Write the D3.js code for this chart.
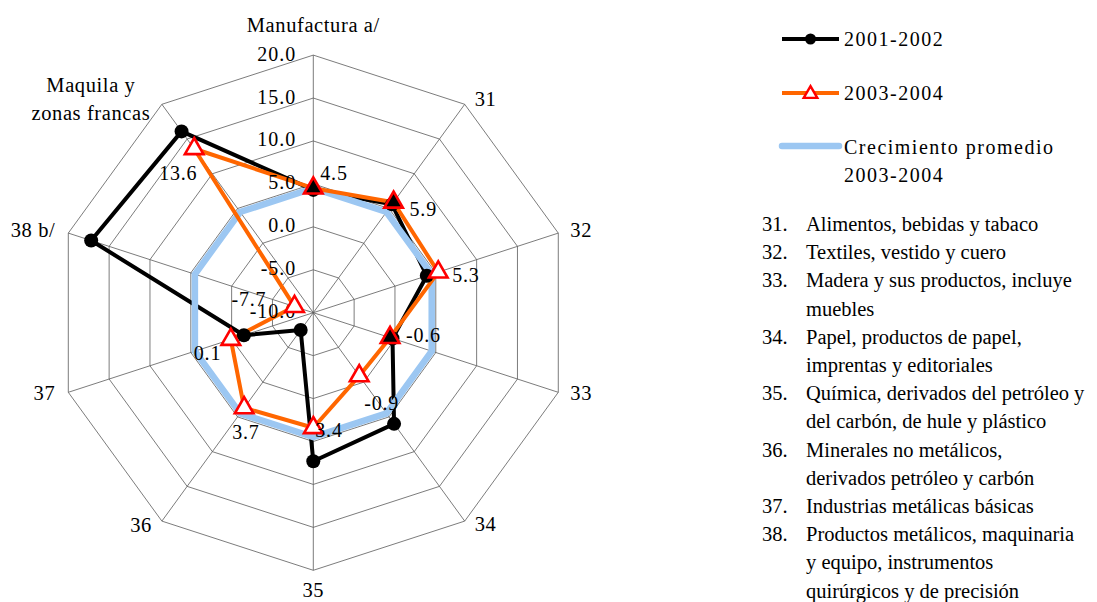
<!DOCTYPE html>
<html>
<head>
<meta charset="utf-8">
<script src="https://cdn.jsdelivr.net/npm/d3@7"></script>
<style>
  body { margin: 0; background: #fff; }
  svg text { font-family: 'Times New Roman', Times, Tinos, 'Liberation Serif', 'Noto Serif', 'DejaVu Serif', FreeSerif, serif; }
</style>
</head>
<body>
<svg id="chart" width="1097" height="602"></svg>
<script>
// Radar: crecimiento manufacturero por división

var categories = ["Manufactura a/", "31", "32", "33", "34", "35", "36", "37", "38 b/", "Maquila y zonas francas"];
var serie2001 = [4.3, 5.6, 3.9, -0.3, 6.0, 7.3, -7.5, -1.5, 17.2, 16.1];
var serie2003 = [4.5, 5.9, 5.3, -0.6, -0.9, 3.4, 3.7, 0.1, -7.7, 13.6];
var promedio = [4.5, 4.5, 4.5, 4.5, 4.5, 4.5, 4.5, 4.5, 4.5, 4.5];
var tickValues = [-10, -5, 0, 5, 10, 15, 20];
var seriesNames = ["2001-2002", "2003-2004", "Crecimiento promedio", "2003-2004"];
var notes = [
  ["31.", "Alimentos, bebidas y tabaco"],
  ["32.", "Textiles, vestido y cuero"],
  ["33.", "Madera y sus productos, incluye"],
  ["", "muebles"],
  ["34.", "Papel, productos de papel,"],
  ["", "imprentas y editoriales"],
  ["35.", "Química, derivados del petróleo y"],
  ["", "del carbón, de hule y plástico"],
  ["36.", "Minerales no metálicos,"],
  ["", "derivados petróleo y carbón"],
  ["37.", "Industrias metálicas básicas"],
  ["38.", "Productos metálicos, maquinaria"],
  ["", "y equipo, instrumentos"],
  ["", "quirúrgicos y de precisión"]
];

// label placement (offsets from the outer vertex / from the point)
var catLabelPos = [
  {anchor: "middle", dx: 0, dy: -23}, {anchor: "start", dx: 10, dy: 2},
  {anchor: "start", dx: 12, dy: 4}, {anchor: "start", dx: 12, dy: 8},
  {anchor: "start", dx: 10, dy: 10}, {anchor: "middle", dx: 0, dy: 27},
  {anchor: "end", dx: -10, dy: 11}, {anchor: "end", dx: -13, dy: 8},
  {anchor: "end", dx: -13, dy: 4}, {anchor: "middle", dx: -71, dy: -12}
];
var valueLabelPos = [
  [7, -8], [16, 14], [14, 10], [16, 4], [5, 34],
  [2, 9], [-12, 31], [-37, 21], [-63, -1], [-35, 31]
];

var cx = 313.3, cy = 312.7, R = 257.6;
var svg = d3.select("#chart");

var r = d3.scaleLinear().domain([-10, 20]).range([0, R]);
var angle = d3.scaleLinear().domain([0, categories.length]).range([0, 2 * Math.PI]);

var px = function (i, v) { return cx + r(v) * Math.sin(angle(i)); };
var py = function (i, v) { return cy - r(v) * Math.cos(angle(i)); };

var g = svg.append("g").attr("transform", "translate(" + cx + "," + cy + ")");

var ring = d3.lineRadial()
  .angle(function (d, i) { return angle(i); })
  .radius(function (d) { return r(d); })
  .curve(d3.curveLinearClosed);

// grid rings
g.selectAll("path.grid")
  .data(tickValues.slice(1))
  .enter().append("path")
  .attr("class", "grid")
  .attr("d", function (v) { return ring(categories.map(function () { return v; })); })
  .attr("fill", "none")
  .attr("stroke", "#5a5a5a")
  .attr("stroke-width", 0.8);

// spokes
g.selectAll("line.spoke")
  .data(categories)
  .enter().append("line")
  .attr("x1", 0).attr("y1", 0)
  .attr("x2", function (d, i) { return r(20) * Math.sin(angle(i)); })
  .attr("y2", function (d, i) { return -r(20) * Math.cos(angle(i)); })
  .attr("stroke", "#5a5a5a")
  .attr("stroke-width", 0.8);

// tick labels along the top spoke
svg.selectAll("text.tick")
  .data(tickValues)
  .enter().append("text")
  .attr("x", cx - 17)
  .attr("y", function (v) { return cy - r(v) + 5.5; })
  .attr("text-anchor", "end")
  .attr("font-size", 20)
  .attr("letter-spacing", 1)
  .text(function (v) { return v.toFixed(1); });

// category labels
categories.forEach(function (c, i) {
  var p = catLabelPos[i];
  var t = svg.append("text")
    .attr("x", px(i, 20) + p.dx)
    .attr("y", py(i, 20) + p.dy)
    .attr("text-anchor", p.anchor)
    .attr("font-size", 20.5)
    .attr("letter-spacing", 0.6);
  if (c === "Maquila y zonas francas") {
    t.append("tspan").attr("x", px(i, 20) + p.dx).text("Maquila y");
    t.append("tspan").attr("x", px(i, 20) + p.dx).attr("dy", 28).text("zonas francas");
  } else {
    t.text(c);
  }
});

// 2001-2002 (black)
g.append("path")
  .attr("d", ring(serie2001))
  .attr("fill", "none")
  .attr("stroke", "#000")
  .attr("stroke-width", 4)
  .attr("stroke-linejoin", "round");

svg.selectAll("circle.s2001")
  .data(serie2001)
  .enter().append("circle")
  .attr("cx", function (d, i) { return px(i, d); })
  .attr("cy", function (d, i) { return py(i, d); })
  .attr("r", 7)
  .attr("fill", "#000");

// average growth (light blue)
g.append("path")
  .attr("d", ring(promedio))
  .attr("fill", "none")
  .attr("stroke", "#9cc7f2")
  .attr("stroke-width", 6.5);

// 2003-2004 (orange, red triangles)
g.append("path")
  .attr("d", ring(serie2003))
  .attr("fill", "none")
  .attr("stroke", "#ff6600")
  .attr("stroke-width", 4)
  .attr("stroke-linejoin", "round");

var tri = d3.symbol().type(d3.symbolTriangle).size(150);
svg.selectAll("path.s2003")
  .data(serie2003)
  .enter().append("path")
  .attr("d", tri)
  .attr("transform", function (d, i) { return "translate(" + px(i, d) + "," + py(i, d) + ")"; })
  .attr("fill", function (d, i) {
    // where the 2001-2002 marker sits under the triangle it shows through
    var dist = Math.hypot(px(i, d) - px(i, serie2001[i]), py(i, d) - py(i, serie2001[i]));
    return dist < 8 ? "#000" : "#fff";
  })
  .attr("stroke", "#ff0000")
  .attr("stroke-width", 2.6);

// value labels of 2003-2004
svg.selectAll("text.val")
  .data(serie2003)
  .enter().append("text")
  .attr("x", function (d, i) { return px(i, d) + valueLabelPos[i][0]; })
  .attr("y", function (d, i) { return py(i, d) + valueLabelPos[i][1]; })
  .attr("font-size", 20)
  .attr("letter-spacing", 0.8)
  .text(function (d) { return d.toFixed(1); });

///////////////////////////////////////////////////////////////////////////////
// Legend

var lg = svg.append("g");
var lx0 = 782, lx1 = 839, tx = 844;

lg.append("line").attr("x1", lx0).attr("x2", lx1).attr("y1", 39).attr("y2", 39)
  .attr("stroke", "#000").attr("stroke-width", 4);
lg.append("circle").attr("cx", (lx0 + lx1) / 2).attr("cy", 39).attr("r", 5.5).attr("fill", "#000");

lg.append("line").attr("x1", lx0).attr("x2", lx1).attr("y1", 93).attr("y2", 93)
  .attr("stroke", "#ff6600").attr("stroke-width", 4);
lg.append("path").attr("d", d3.symbol().type(d3.symbolTriangle).size(80))
  .attr("transform", "translate(" + (lx0 + lx1) / 2 + ",94)")
  .attr("fill", "#fff").attr("stroke", "#ff0000").attr("stroke-width", 2.4);

lg.append("line").attr("x1", lx0).attr("x2", lx1).attr("y1", 146).attr("y2", 146)
  .attr("stroke", "#9cc7f2").attr("stroke-width", 6.5).attr("stroke-linecap", "round");

var legendY = [46, 100, 154, 182];
lg.selectAll("text")
  .data(seriesNames)
  .enter().append("text")
  .attr("x", tx)
  .attr("y", function (d, i) { return legendY[i]; })
  .attr("font-size", 20)
  .attr("letter-spacing", 1.5)
  .text(function (d) { return d; });

// notes list
var ng = svg.append("g").attr("font-size", 20.5);
notes.forEach(function (n, i) {
  var y = 231 + i * 28.2;
  if (n[0]) ng.append("text").attr("x", 762).attr("y", y).text(n[0]);
  ng.append("text").attr("x", 806).attr("y", y).text(n[1]);
});
</script>
</body>
</html>
